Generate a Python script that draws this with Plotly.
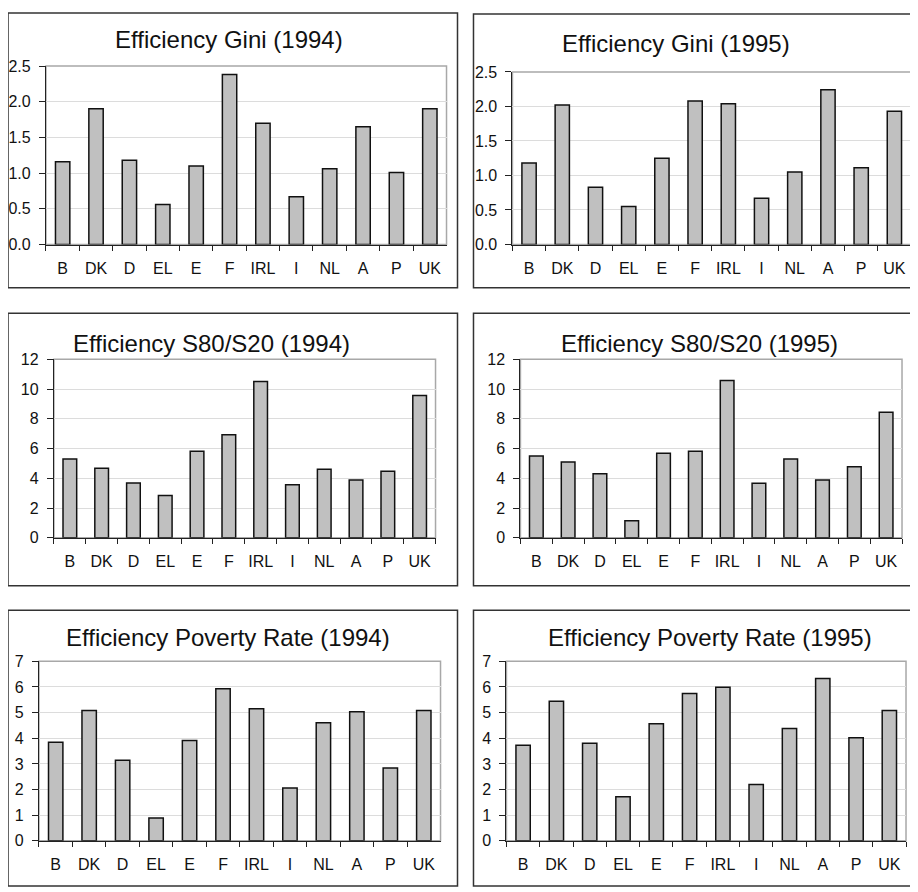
import plotly.graph_objects as go

# The page body has an 8px default margin, so the figure is sized to fit the
# 918x892 window and pixel positions below (screen coordinates) are shifted.
OFF = 8
W, H = 918 - OFF, 892 - OFF

countries = ["B", "DK", "D", "EL", "E", "F", "IRL", "I", "NL", "A", "P", "UK"]

gini_1994 = [1.16, 1.90, 1.18, 0.56, 1.10, 2.38, 1.70, 0.67, 1.06, 1.65, 1.01, 1.90]
gini_1995 = [1.18, 2.02, 0.83, 0.55, 1.25, 2.08, 2.04, 0.67, 1.05, 2.24, 1.11, 1.93]
s80_1994 = [5.29, 4.67, 3.68, 2.85, 5.81, 6.93, 10.50, 3.57, 4.60, 3.88, 4.47, 9.56]
s80_1995 = [5.50, 5.09, 4.30, 1.14, 5.68, 5.81, 10.57, 3.66, 5.29, 3.88, 4.78, 8.44]
pov_1994 = [3.84, 5.08, 3.14, 0.89, 3.91, 5.93, 5.15, 2.06, 4.61, 5.03, 2.84, 5.08]
pov_1995 = [3.73, 5.44, 3.81, 1.72, 4.57, 5.75, 5.99, 2.20, 4.38, 6.33, 4.02, 5.08]

titles = [
    "Efficiency Gini (1994)", "Efficiency Gini (1995)",
    "Efficiency S80/S20 (1994)", "Efficiency S80/S20 (1995)",
    "Efficiency Poverty Rate (1994)", "Efficiency Poverty Rate (1995)",
]
series = [gini_1994, gini_1995, s80_1994, s80_1995, pov_1994, pov_1995]
y_ranges = [(0, 2.5, 0.5, ".1f"), (0, 2.5, 0.5, ".1f"),
            (0, 12, 2, "d"), (0, 12, 2, "d"),
            (0, 7, 1, "d"), (0, 7, 1, "d")]

# screen-pixel layout: plot area (left, right, top, bottom), title centre, frame (l, r, t, b)
plots = [
    (45, 446, 59, 241), (512, 911, 65, 241),
    (53, 435, 358, 540), (520, 902, 358, 540),
    (38, 440, 666, 849), (506, 906, 666, 849),
]
title_pos = [(228, 32), (676, 36), (211, 342), (699, 342), (227, 642), (710, 642)]
frames = [
    (7, 457, 5, 285), (473, 917, 6, 285),
    (7, 457, 311, 589), (473, 917, 311, 589),
    (7, 457, 614, 895), (473, 917, 614, 895),
]


def px(x):
    return (x - OFF) / W


def py(y):
    return 1 - (y - OFF) / H


FONT = "Liberation Sans, Arial, sans-serif"

fig = go.Figure()
shapes = []
annotations = []

for i in range(6):
    n = i + 1
    xa = "x" if n == 1 else f"x{n}"
    ya = "y" if n == 1 else f"y{n}"
    fig.add_trace(go.Bar(
        x=countries, y=series[i], xaxis=xa, yaxis=ya,
        marker=dict(color="#c0c0c0", line=dict(color="#111111", width=1.5)),
        showlegend=False, hoverinfo="x+y",
    ))
    l, r, t, b = plots[i]
    ymin, ymax, dt, fmt = y_ranges[i]
    xkey = "xaxis" if n == 1 else f"xaxis{n}"
    ykey = "yaxis" if n == 1 else f"yaxis{n}"
    fig.layout[xkey] = dict(
        domain=[px(l), px(r)], anchor=ya, type="category",
        showline=True, linecolor="#222222", linewidth=1.2,
        ticks="outside", tickson="boundaries", ticklen=5, tickcolor="#222222",
        tickwidth=1, showgrid=False, ticklabelstandoff=9, tickangle=0,
        tickfont=dict(family=FONT, size=16, color="#111111"),
        fixedrange=True,
    )
    fig.layout[ykey] = dict(
        domain=[py(b), py(t)], anchor=xa,
        range=[ymin, ymax], dtick=dt, tick0=0, tickformat=fmt,
        showline=True, linecolor="#222222", linewidth=1.2,
        ticks="outside", ticklen=6, tickcolor="#222222", tickwidth=1,
        showgrid=True, gridcolor="#dcdcdc", gridwidth=1, zeroline=False,
        ticklabelstandoff=5,
        tickfont=dict(family=FONT, size=16, color="#111111"),
        fixedrange=True,
    )
    # grey plot-area box (shows on the top and right edges)
    shapes.append(dict(type="rect", xref=f"{xa} domain", yref=f"{ya} domain",
                       x0=0, x1=1, y0=0, y1=1, layer="below",
                       line=dict(color="#a8a8a8", width=1.5)))
    fl, fr, ft, fb = frames[i]
    shapes.append(dict(type="rect", xref="paper", yref="paper",
                       x0=px(fl), x1=px(fr), y0=py(fb), y1=py(ft),
                       line=dict(color="#333333", width=1.5)))
    tx, ty = title_pos[i]
    annotations.append(dict(text=titles[i], xref="paper", yref="paper",
                            x=px(tx), y=py(ty), xanchor="center", yanchor="middle",
                            showarrow=False,
                            font=dict(family=FONT, size=24, color="#111111")))

fig.update_layout(
    width=W, height=H, margin=dict(l=0, r=0, t=0, b=0),
    paper_bgcolor="white", plot_bgcolor="white",
    bargap=0.57, shapes=shapes, annotations=annotations,
    font=dict(family=FONT),
)

fig.write_html("out.html")
